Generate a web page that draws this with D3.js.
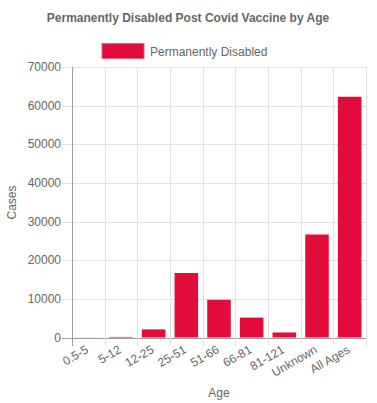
<!DOCTYPE html>
<html lang="en">
<head>
    <meta charset="UTF-8">
    <title>Permanently Disabled Post Covid Vaccine by Age</title>
    <style>
        body, html {
            margin: 0;
            padding: 0;
            background-color: #fff;
        }
        svg text {
            font-family: "Liberation Sans", Arial, Helvetica, sans-serif;
            fill: #666;
        }
    </style>
</head>
<body>
    <div id="chart"></div>

    <script src="https://d3js.org/d3.v7.min.js"></script>
    <script>
        const ages = ["0.5-5", "5-12", "12-25", "25-51", "51-66", "66-81", "81-121", "Unknown", "All Ages"];
        const cases = [20, 150, 2100, 16700, 9750, 5150, 1300, 26650, 62300];
        const yTicks = [0, 10000, 20000, 30000, 40000, 50000, 60000, 70000];

        const width = 377, height = 403;
        const margin = { top: 67, right: 11, bottom: 65, left: 72 };

        const svg = d3.select("#chart")
            .append("svg")
            .attr("width", width)
            .attr("height", height);

        const x = d3.scaleBand()
            .domain(ages)
            .range([margin.left, width - margin.right])
            .paddingInner(0)
            .paddingOuter(0);

        const y = d3.scaleLinear()
            .domain([0, 70000])
            .range([height - margin.bottom - 0.5, margin.top]);

        // Title
        svg.append("text")
            .attr("x", 188)
            .attr("y", 22)
            .attr("text-anchor", "middle")
            .attr("font-size", "12px")
            .attr("font-weight", "bold")
            .text("Permanently Disabled Post Covid Vaccine by Age");

        // Legend
        svg.append("rect")
            .attr("x", 102)
            .attr("y", 43.5)
            .attr("width", 42)
            .attr("height", 15)
            .attr("fill", "#e30b3a")
            .attr("stroke", "#ec6180")
            .attr("stroke-width", 1);
        svg.append("text")
            .attr("x", 150)
            .attr("y", 55.5)
            .attr("font-size", "12px")
            .text("Permanently Disabled");

        // Horizontal gridlines
        svg.append("g")
            .selectAll("line")
            .data(yTicks)
            .join("line")
            .attr("x1", margin.left - 10)
            .attr("x2", width - margin.right)
            .attr("y1", d => Math.round(y(d)) + 0.5)
            .attr("y2", d => Math.round(y(d)) + 0.5)
            .attr("stroke", d => d === 0 ? "#9e9e9e" : "#e2e2e2");

        // Vertical gridlines
        const xEdges = ages.map(d => x(d)).concat([x.range()[1]]);
        svg.append("g")
            .selectAll("line")
            .data(xEdges)
            .join("line")
            .attr("x1", d => Math.round(d) + 0.5)
            .attr("x2", d => Math.round(d) + 0.5)
            .attr("y1", margin.top)
            .attr("y2", height - margin.bottom + 8)
            .attr("stroke", (d, i) => i === 0 ? "#9e9e9e" : "#e2e2e2");

        // Y tick labels
        svg.append("g")
            .selectAll("text")
            .data(yTicks)
            .join("text")
            .attr("x", margin.left - 11)
            .attr("y", d => y(d) + 4)
            .attr("text-anchor", "end")
            .attr("font-size", "12px")
            .text(d => d);

        // Bars
        const bw = x.bandwidth() * 0.72;
        svg.append("g")
            .selectAll("rect")
            .data(ages)
            .join("rect")
            .attr("x", d => x(d) + (x.bandwidth() - bw) / 2)
            .attr("y", (d, i) => y(cases[i]))
            .attr("width", bw)
            .attr("height", (d, i) => y(0) - y(cases[i]))
            .attr("fill", "#e30b3a");

        // X tick labels (rotated)
        svg.append("g")
            .selectAll("text")
            .data(ages)
            .join("text")
            .attr("text-anchor", "end")
            .attr("font-size", "12px")
            .attr("transform", d => `translate(${x(d) + x.bandwidth() / 2 + 1},${height - margin.bottom + 14}) rotate(-30)`)
            .text(d => d);

        // Axis titles
        svg.append("text")
            .attr("x", (margin.left + width - margin.right) / 2)
            .attr("y", 397)
            .attr("text-anchor", "middle")
            .attr("font-size", "12px")
            .text("Age");

        svg.append("text")
            .attr("transform", `translate(16,${(margin.top + height - margin.bottom) / 2}) rotate(-90)`)
            .attr("text-anchor", "middle")
            .attr("font-size", "12px")
            .text("Cases");
    </script>
</body>
</html>
